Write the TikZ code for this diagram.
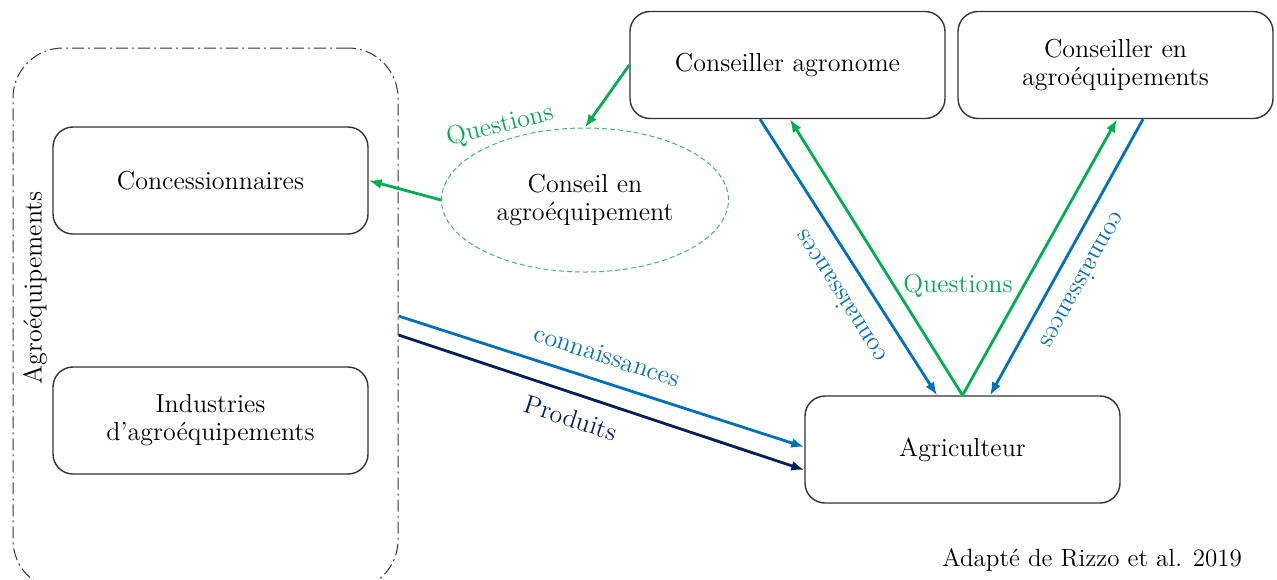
\documentclass[tikz,border=0pt]{standalone}
\usetikzlibrary{arrows.meta,shapes.geometric}
\definecolor{qgreen}{HTML}{00B050}
\definecolor{kblue}{HTML}{0070C0}
\definecolor{pnavy}{HTML}{002060}

\begin{document}
\begin{tikzpicture}[x=0.5pt,y=-0.5pt,font=\fontsize{13}{14}\selectfont]
  \tikzstyle{actor}=[draw=black!80,line width=0.7pt,rounded corners=10pt,minimum width=157.5pt,minimum height=53.5pt,align=center]
  \tikzstyle{flow}=[line width=1.4pt,-{Latex[length=6.5pt,width=5pt]}]
  \useasboundingbox (0,0) rectangle (1277,579);
  % agroequipment side
  \node[draw=black!80,line width=0.5pt,dash pattern=on 6pt off 2pt on 1pt off 2pt,rounded corners=25pt,minimum width=192.5pt,minimum height=271pt] (agro) at (205.5,319) {};
  \node[rotate=90] (agrolabel) at (35,288) {Agroéquipements};
  \node[actor] (conc) at (210.5,180.5) {Concessionnaires};
  \node[actor] (indus) at (210.5,420.5) {Industries\\d’agroéquipements};
  \node[ellipse,draw=qgreen!80,dash pattern=on 2.5pt off 1.5pt,line width=0.5pt,minimum width=143.5pt,minimum height=72pt,inner sep=0pt,align=center] (cons) at (585,200) {Conseil en\\agroéquipement};
  % advisers and farmer
  \node[actor] (agronome) at (787.5,65) {Conseiller agronome};
  \node[actor] (equip) at (1115.5,65) {Conseiller en\\agroéquipements};
  \node[actor] (farmer) at (962.5,449.5) {Agriculteur};
  % flows
  \draw[flow,qgreen] (agronome.west) -- (cons.north);
  \draw[flow,qgreen] (cons.west) -- (conc.east);
  \draw[flow,kblue] ([yshift=1.5pt]agro.east) -- ([yshift=1.25pt]farmer.west);
  \draw[flow,pnavy] ([yshift=-8pt]agro.east) -- ([yshift=-10.25pt]farmer.west);
  \draw[flow,kblue] ([xshift=-13.75pt]agronome.south) -- ([xshift=-12.75pt]farmer.north);
  \draw[flow,qgreen] (farmer.north) -- ([xshift=1.25pt]agronome.south);
  \draw[flow,qgreen] (farmer.north) -- ([xshift=0.75pt]equip.south);
  \draw[flow,kblue] ([xshift=13.75pt]equip.south) -- ([xshift=13.75pt]farmer.north);
  % labels
  \node[text=qgreen,rotate=14] (q1) at (500,126) {Questions};
  \node[text=kblue,rotate=-18] (k1) at (607,356) {connaissances};
  \node[text=pnavy,rotate=-18] (p1) at (571,418) {Produits};
  \node[text=kblue,rotate=122.5] (k2) at (840,297) {connaissances};
  \node[text=kblue,rotate=-119] (k3) at (1084,281) {connaissances};
  \node[text=qgreen] (q2) at (958,286) {Questions};
  \node[anchor=east,font=\fontsize{12.5}{14}\selectfont] (credit) at (1249,560) {Adapté de Rizzo et al. 2019};
\end{tikzpicture}
\end{document}
